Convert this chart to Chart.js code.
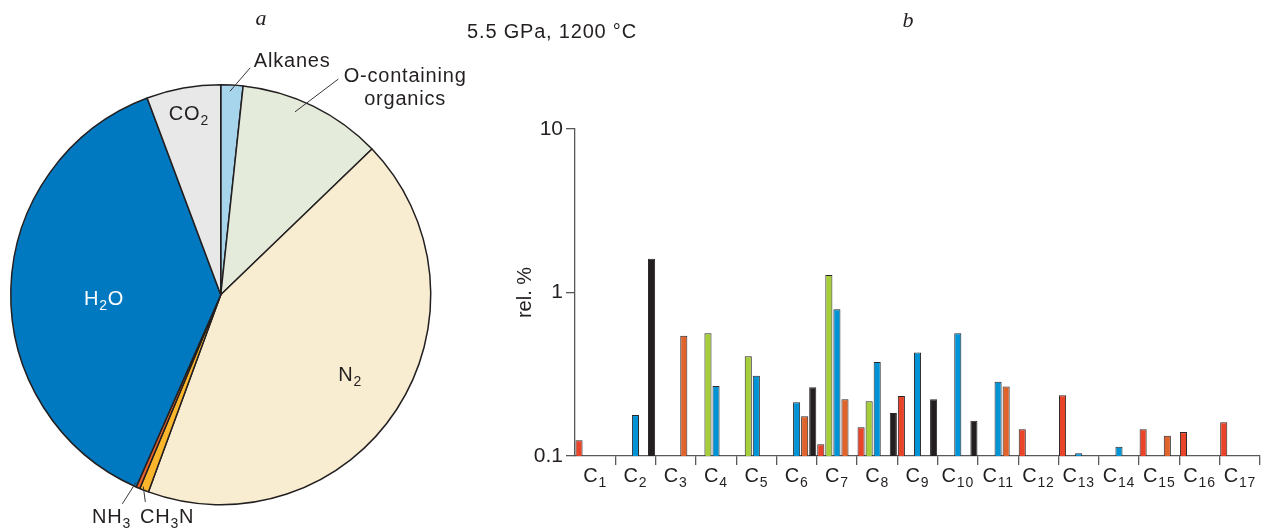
<!DOCTYPE html>
<html>
<head>
<meta charset="utf-8">
<script src="https://cdn.jsdelivr.net/npm/chart.js@4/dist/chart.umd.min.js"></script>
<style>
  html, body { margin: 0; padding: 0; background: #ffffff; }
  #wrap { position: relative; width: 1265px; height: 529px; overflow: hidden; }
  #pie  { position: absolute; left: 0; top: 0; }
  #bars { position: absolute; left: 440px; top: 0; }
</style>
</head>
<body>
<div id="wrap">
  <canvas id="pie" width="480" height="529"></canvas>
  <canvas id="bars" width="825" height="529"></canvas>
</div>
<script>
// ---- panel a: gas composition, % ----
const pieLabels = ['Alkanes', 'O-containing organics', 'N₂', 'CH₃N', 'NH₃', 'H₂O', 'CO₂'];
const pieShares = [1.7, 11.1, 42.8, 0.7, 0.3, 37.7, 5.7];
const pieColors = ['#a6d5ec', '#e4ebda', '#f8ecd1', '#fbb62b', '#e4612b', '#0079c1', '#e8e8e8'];

// ---- panel b: relative content by carbon number, rel. % ----
const carbonNumbers = [1, 2, 3, 4, 5, 6, 7, 8, 9, 10, 11, 12, 13, 14, 15, 16, 17];
const seriesRed    = [0.125, null, null, null, null, null, 0.118, 0.150, 0.233, null, null, 0.146, 0.235, null, 0.146, 0.140, 0.161];
const seriesGreen  = [null, null, null, 0.564, 0.407, null, 1.28, 0.216, null, null, null, null, null, null, null, null, null];
const seriesBlue   = [null, 0.178, null, 0.268, 0.310, 0.213, 0.791, 0.376, 0.429, 0.564, 0.285, null, 0.104, 0.114, null, null, null];
const seriesOrange = [null, null, 0.543, null, null, 0.175, 0.222, null, null, null, 0.266, null, null, null, 0.133, null, null];
const seriesBlack  = [null, 1.61, null, null, null, 0.263, null, 0.183, 0.222, 0.164, null, null, null, null, null, null, null];
const yTickValues = [0.1, 1, 10];
const yTickLabels = ['0.1', '1', '10'];

const FAMILY = '"Liberation Sans", Arial, Helvetica, sans-serif';
const MAIN_FONT = '20px ' + FAMILY;
const SUB_FONT = '14px ' + FAMILY;
const INK = '#231f20';
const AXIS = '#58595b';
const SUBS = '₀₁₂₃₄₅₆₇₈₉';

const toSub = n => String(n).split('').map(d => SUBS[+d]).join('');
const carbonLabels = carbonNumbers.map(n => 'C' + toSub(n));

// split a label into runs of normal text and subscript digits
function runs(text) {
  const out = [];
  for (const ch of text) {
    const i = SUBS.indexOf(ch);
    const sub = i >= 0;
    const c = sub ? String(i) : ch;
    if (out.length && out[out.length - 1].sub === sub) out[out.length - 1].t += c;
    else out.push({ t: c, sub });
  }
  return out;
}

function drawRich(ctx, text, cx, baseline, color) {
  const parts = runs(text);
  ctx.save();
  ctx.letterSpacing = '0.8px';
  let w = 0;
  for (const p of parts) { ctx.font = p.sub ? SUB_FONT : MAIN_FONT; w += ctx.measureText(p.t).width; }
  let x = cx - w / 2;
  ctx.textAlign = 'left';
  ctx.textBaseline = 'alphabetic';
  ctx.fillStyle = color;
  for (const p of parts) {
    ctx.font = p.sub ? SUB_FONT : MAIN_FONT;
    ctx.fillText(p.t, x, baseline + (p.sub ? 5 : 0));
    x += ctx.measureText(p.t).width;
  }
  ctx.restore();
}

function drawItalic(ctx, text, x, baseline) {
  ctx.save();
  ctx.font = 'italic 22px "Liberation Serif", "Times New Roman", serif';
  ctx.fillStyle = INK;
  ctx.textAlign = 'center';
  ctx.textBaseline = 'alphabetic';
  ctx.fillText(text, x, baseline);
  ctx.restore();
}

// polar helper: angle in degrees clockwise from 12 o'clock, radius as a fraction of the pie radius
function polar(arc, deg, frac) {
  const a = deg * Math.PI / 180;
  const r = arc.outerRadius * frac;
  return { x: arc.x + r * Math.sin(a), y: arc.y - r * Math.cos(a) };
}

// label placement around the pie (text baseline anchor, optional leader line)
const pieLabelPlacement = [
  { label: 0, at: [17.4, 1.138],  color: INK, leader: [[2.6, 0.97], [7.4, 1.09]] },
  { label: 1, at: [40.9, 1.341],  color: INK, leader: [[22.1, 0.94], [28.6, 1.17]], wrap: ['O-containing', 'organics'] },
  { label: 2, at: [123.6, 0.74],  color: INK },
  { label: 3, at: [193.25, 1.115], color: INK, leader: [[202.0, 0.985], [200.0, 1.05]] },
  { label: 4, at: [205.6, 1.204], color: INK, leader: [[204.3, 0.98], [205.2, 1.10]] },
  { label: 5, at: [265.1, 0.558], color: '#ffffff' },
  { label: 6, at: [349.7, 0.847], color: INK }
];

const pieTextPlugin = {
  id: 'pieText',
  afterDraw(chart) {
    const ctx = chart.ctx;
    const arc = chart.getDatasetMeta(0).data[0];
    drawItalic(ctx, 'a', 261, 25);
    ctx.save();
    ctx.strokeStyle = '#3a3536';
    ctx.lineWidth = 1;
    for (const p of pieLabelPlacement) {
      if (p.leader) {
        const a = polar(arc, p.leader[0][0], p.leader[0][1]);
        const b = polar(arc, p.leader[1][0], p.leader[1][1]);
        ctx.beginPath(); ctx.moveTo(a.x, a.y); ctx.lineTo(b.x, b.y); ctx.stroke();
      }
    }
    ctx.restore();
    for (const p of pieLabelPlacement) {
      const pos = polar(arc, p.at[0], p.at[1]);
      const lines = p.wrap || [pieLabels[p.label]];
      lines.forEach((ln, i) => drawRich(ctx, ln, pos.x, pos.y + i * 23, p.color));
    }
  }
};

new Chart(document.getElementById('pie'), {
  type: 'pie',
  data: {
    labels: pieLabels,
    datasets: [{
      data: pieShares,
      backgroundColor: pieColors,
      borderColor: INK,
      borderWidth: 1.5,
      hoverOffset: 0
    }]
  },
  options: {
    responsive: false,
    animation: false,
    rotation: 0,
    layout: { padding: { left: 10, top: 84, right: 48.5, bottom: 23.5 } },
    plugins: { legend: { display: false }, tooltip: { enabled: false } }
  },
  plugins: [pieTextPlugin]
});

const barTextPlugin = {
  id: 'barText',
  afterDraw(chart) {
    const ctx = chart.ctx;
    const xs = chart.scales.x;
    carbonLabels.forEach((lab, i) => {
      drawRich(ctx, lab, xs.getPixelForValue(i), 482, INK);
    });
    drawRich(ctx, '5.5 GPa, 1200 °C', 112, 38, INK);
    drawItalic(ctx, 'b', 468, 27);
  }
};

const barSeries = [
  { data: seriesRed,    color: '#e9442a' },
  { data: seriesGreen,  color: '#a6cd3a' },
  { data: seriesBlue,   color: '#0093d5' },
  { data: seriesOrange, color: '#df632b' },
  { data: seriesBlack,  color: '#231f20' }
];

new Chart(document.getElementById('bars'), {
  type: 'bar',
  data: {
    labels: carbonLabels,
    datasets: barSeries.map(s => ({
      data: s.data,
      backgroundColor: s.color,
      borderColor: '#2b2627',
      borderWidth: 1,
      categoryPercentage: 1,
      barPercentage: 0.88
    }))
  },
  options: {
    responsive: false,
    animation: false,
    layout: { padding: { left: 40, top: 129, right: 5, bottom: 33 } },
    plugins: { legend: { display: false }, tooltip: { enabled: false } },
    scales: {
      x: {
        grid: {
          offset: true,
          drawOnChartArea: false,
          drawTicks: true,
          tickLength: 9,
          lineWidth: 1.3,
          color: c => (c.index === 0 ? 'rgba(0,0,0,0)' : AXIS)
        },
        border: { color: AXIS, width: 1.3 },
        ticks: { callback: () => '' },
        afterFit: s => { s.height = 40; }
      },
      y: {
        type: 'logarithmic',
        min: 0.1,
        max: 10,
        afterBuildTicks: s => { s.ticks = yTickValues.map(v => ({ value: v })); },
        ticks: {
          callback: v => { const i = yTickValues.indexOf(v); return i >= 0 ? yTickLabels[i] : ''; },
          font: { family: FAMILY, size: 21 },
          color: INK,
          padding: 3
        },
        grid: { drawOnChartArea: false, drawTicks: true, tickLength: 9, lineWidth: 1.3, color: AXIS },
        border: { color: AXIS, width: 1.3 },
        title: {
          display: true,
          text: 'rel. %',
          font: { family: FAMILY, size: 20 },
          color: INK,
          padding: { top: 33, bottom: 0 }
        },
        afterFit: s => { s.width = 95; }
      }
    }
  },
  plugins: [barTextPlugin]
});
</script>
</body>
</html>
